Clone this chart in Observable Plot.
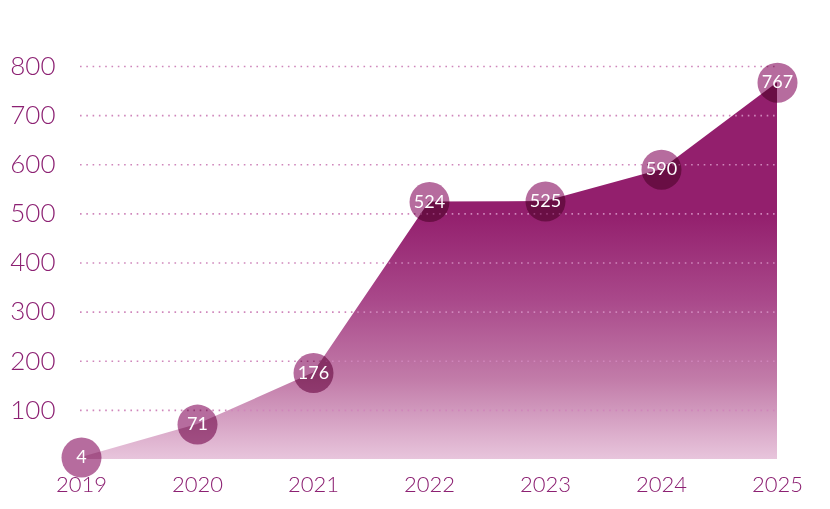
<!DOCTYPE html>
<html>
<head>
<meta charset="utf-8">
<script src="https://cdn.jsdelivr.net/npm/d3@7"></script>
<script src="https://cdn.jsdelivr.net/npm/@observablehq/plot@0.6"></script>
<style>
  html, body { margin: 0; padding: 0; background: #fff; }
  svg { overflow: visible; }
</style>
</head>
<body>
<div id="chart"></div>
<script>
const years = ["2019", "2020", "2021", "2022", "2023", "2024", "2025"];
const values = [4, 71, 176, 524, 525, 590, 767];
const yTicks = [100, 200, 300, 400, 500, 600, 700, 800];

const data = years.map((year, i) => ({year, value: values[i]}));

const textColor = "#8c2072";

const gradientDefs = () => {
  const ns = "http://www.w3.org/2000/svg";
  const defs = document.createElementNS(ns, "defs");
  const g = document.createElementNS(ns, "linearGradient");
  g.setAttribute("id", "areaGrad");
  g.setAttribute("x1", "0"); g.setAttribute("y1", "0");
  g.setAttribute("x2", "0"); g.setAttribute("y2", "1");
  [[0, "#931f6d"], [0.35, "#931f6d"], [0.575, "#a9488a"], [0.79, "#c27ca9"], [1, "#e8c5dc"]]
    .forEach(([o, c]) => {
      const s = document.createElementNS(ns, "stop");
      s.setAttribute("offset", o);
      s.setAttribute("stop-color", c);
      g.appendChild(s);
    });
  defs.appendChild(g);
  return defs;
};

const chart = Plot.plot({
  width: 830,
  height: 509,
  marginLeft: 80,
  marginRight: 53,
  marginTop: 66,
  marginBottom: 50,
  style: {fontFamily: "Lato, 'Open Sans', sans-serif", color: textColor, background: "#fff"},
  x: {type: "point", domain: years, padding: 0},
  y: {domain: [0, 800]},
  marks: [
    gradientDefs,
    Plot.areaY(data, {x: "year", y: "value", fill: "url(#areaGrad)"}),
    Plot.gridY(yTicks, {stroke: "#cf86bb", strokeOpacity: 1, strokeWidth: 1.6, strokeDasharray: "1.6,4.7"}),
    Plot.axisY(yTicks, {tickSize: 0, tickPadding: 25, fontSize: 26, fontWeight: 300, fill: textColor, label: null}),
    Plot.axisX(years, {tickSize: 0, tickPadding: 17, fontSize: 22, fontWeight: 300, fill: textColor, label: null}),
    Plot.dot(data, {x: "year", y: "value", r: 20, fill: "rgb(182,108,158)", stroke: "none", mixBlendMode: "multiply"}),
    Plot.text(data, {x: "year", y: "value", text: d => String(d.value), fill: "white", fontSize: 18})
  ]
});

document.getElementById("chart").appendChild(chart);
</script>
</body>
</html>
